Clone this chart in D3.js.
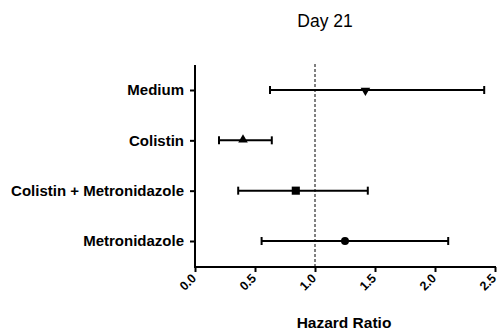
<!DOCTYPE html>
<html>
<head>
<meta charset="utf-8">
<script src="https://cdn.jsdelivr.net/npm/d3@7"></script>
<style>
  body { margin: 0; background: #fff; }
  svg { font-family: Arial, "Liberation Sans", sans-serif; }
</style>
</head>
<body>
<svg width="498" height="331"></svg>
<script>
// data
var groups = ["Medium", "Colistin", "Colistin + Metronidazole", "Metronidazole"];
var hazard = [1.42, 0.40, 0.84, 1.25];
var lower = [0.625, 0.20, 0.36, 0.555];
var upper = [2.41, 0.64, 1.44, 2.11];
var shapes = ["triangleDown", "triangle", "square", "circle"];
var xTicks = [0.0, 0.5, 1.0, 1.5, 2.0, 2.5];

var svg = d3.select("svg");

var x = d3.scaleLinear().domain([0, 2.5]).range([195, 495]);
var y = d3.scalePoint().domain(groups).range([90, 241]);
var plotTop = 64, plotBottom = 267;

// axes
var xAxis = svg.append("g")
    .attr("transform", "translate(0," + plotBottom + ")")
    .call(d3.axisBottom(x).tickValues(xTicks).tickFormat(d3.format(".1f")).tickSize(5).tickSizeOuter(0));
xAxis.select(".domain").attr("stroke-width", 2).attr("d", "M" + (x(0) - 1) + ",0H" + (x(2.5) + 1));
xAxis.selectAll(".tick line").attr("stroke-width", 2);
xAxis.selectAll(".tick text")
    .attr("font-size", 12.5).attr("font-weight", "bold")
    .attr("text-anchor", "end")
    .attr("y", 0).attr("dy", 0)
    .attr("transform", "translate(1.5,12) rotate(-45)");

var yAxis = svg.append("g")
    .attr("transform", "translate(" + x(0) + ",0)")
    .call(d3.axisLeft(y).tickSize(5).tickSizeOuter(0));
yAxis.select(".domain").attr("stroke-width", 2).attr("d", "M0," + (plotTop + 1) + "V" + (plotBottom + 1));
yAxis.selectAll(".tick line").attr("stroke-width", 2);
yAxis.selectAll(".tick text").attr("font-size", 15).attr("font-weight", "bold").attr("x", -11);

// reference line at 1
svg.append("line")
    .attr("x1", x(1)).attr("x2", x(1))
    .attr("y1", plotTop).attr("y2", plotBottom)
    .attr("stroke", "#000").attr("stroke-width", 1)
    .attr("stroke-dasharray", "3,2");

// error bars
var rows = svg.append("g").selectAll("g")
    .data(groups)
    .enter()
    .append("g")
    .attr("transform", function (d) { return "translate(0," + y(d) + ")"; });

rows.append("line")
    .attr("x1", function (d, i) { return x(lower[i]); })
    .attr("x2", function (d, i) { return x(upper[i]); })
    .attr("stroke", "#000").attr("stroke-width", 2);

rows.append("line")
    .attr("x1", function (d, i) { return x(lower[i]); })
    .attr("x2", function (d, i) { return x(lower[i]); })
    .attr("y1", -4).attr("y2", 4)
    .attr("stroke", "#000").attr("stroke-width", 2);

rows.append("line")
    .attr("x1", function (d, i) { return x(upper[i]); })
    .attr("x2", function (d, i) { return x(upper[i]); })
    .attr("y1", -4).attr("y2", 4)
    .attr("stroke", "#000").attr("stroke-width", 2);

// markers
var symbolType = {
    triangle: d3.symbolTriangle,
    triangleDown: d3.symbolTriangle,
    square: d3.symbolSquare,
    circle: d3.symbolCircle
};
var symbolSize = { triangle: 40, triangleDown: 40, square: 66, circle: 50 };
rows.append("path")
    .attr("d", function (d, i) { return d3.symbol().type(symbolType[shapes[i]]).size(symbolSize[shapes[i]])(); })
    .attr("transform", function (d, i) {
        var t = "translate(" + x(hazard[i]) + ",0)";
        if (shapes[i] == "triangleDown") t += " rotate(180) translate(0,-0.5)";
        if (shapes[i] == "triangle") t += " translate(0,-0.5)";
        return t;
    })
    .attr("fill", "#000");

// title and axis label
svg.append("text")
    .attr("x", 325).attr("y", 27)
    .attr("text-anchor", "middle")
    .attr("font-size", 17.5)
    .text("Day 21");

svg.append("text")
    .attr("x", 344).attr("y", 328)
    .attr("text-anchor", "middle")
    .attr("font-size", 15.5).attr("font-weight", "bold")
    .text("Hazard Ratio");
</script>
</body>
</html>
